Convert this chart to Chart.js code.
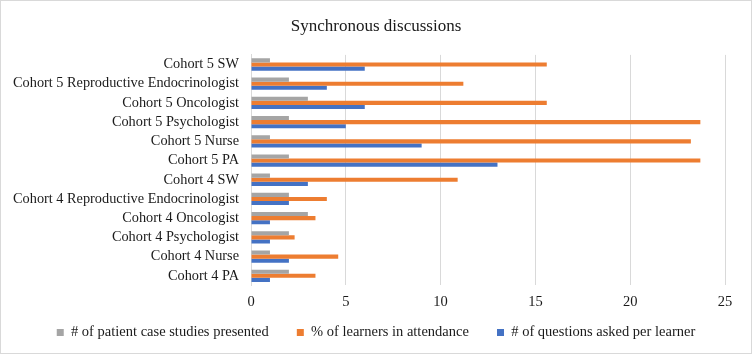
<!DOCTYPE html>
<html>
<head>
<meta charset="utf-8">
<script src="https://cdn.jsdelivr.net/npm/chart.js@4/dist/chart.umd.min.js"></script>
<style>
  body { margin: 0; background: #fff; }
  #wrap { width: 750px; height: 352px; border: 1px solid #d9d9d9; }
</style>
</head>
<body>
<div id="wrap"><canvas id="chart" width="750" height="352"></canvas></div>
<script>
const cohorts = [
  'Cohort 5 SW',
  'Cohort 5 Reproductive Endocrinologist',
  'Cohort 5 Oncologist',
  'Cohort 5 Psychologist',
  'Cohort 5 Nurse',
  'Cohort 5 PA',
  'Cohort 4 SW',
  'Cohort 4 Reproductive Endocrinologist',
  'Cohort 4 Oncologist',
  'Cohort 4 Psychologist',
  'Cohort 4 Nurse',
  'Cohort 4 PA'
];
const caseStudies = [1, 2, 3, 2, 1, 2, 1, 2, 3, 2, 1, 2];
const attendance = [15.6, 11.2, 15.6, 23.7, 23.2, 23.7, 10.9, 4.0, 3.4, 2.3, 4.6, 3.4];
const questions = [6, 4, 6, 5, 9, 13, 3, 2, 1, 1, 2, 1];
const xTicks = [0, 5, 10, 15, 20, 25];

Chart.defaults.font.family = '"Liberation Serif", "Times New Roman", serif';
Chart.defaults.color = '#1a1a1a';

const data = {
  labels: cohorts,
  datasets: [
    {
      label: '# of patient case studies presented',
      data: caseStudies,
      backgroundColor: '#a5a5a5'
    },
    {
      label: '% of learners in attendance',
      data: attendance,
      backgroundColor: '#ed7d31'
    },
    {
      label: '# of questions asked per learner',
      data: questions,
      backgroundColor: '#4472c4'
    }
  ]
};

// legend padding is kept small (it also sets the legend height),
// so the wider gap between items comes from trailing spaces
const legendLabels = (chart) => {
  const items = Chart.defaults.plugins.legend.labels.generateLabels(chart);
  items.forEach((item, i) => {
    if (i < items.length - 1) item.text += '     ';
  });
  return items;
};

// title and legend are centred on the whole canvas, not on the padded area
const centerOnCanvas = {
  id: 'centerOnCanvas',
  afterLayout(chart) {
    const shift = 8;
    [chart.titleBlock, chart.legend].forEach(box => {
      if (box) { box.left += shift; box.right += shift; }
    });
  }
};

const config = {
  type: 'bar',
  data: data,
  plugins: [centerOnCanvas],
  options: {
    indexAxis: 'y',
    responsive: false,
    animation: false,
    datasets: {
      bar: { categoryPercentage: 0.64, barPercentage: 1.0, borderWidth: 0 }
    },
    layout: { padding: { left: 10, right: 26, top: 0, bottom: 3.3 } },
    plugins: {
      title: {
        display: true,
        text: 'Synchronous discussions',
        font: { size: 17, weight: 'normal' },
        padding: { top: 15, bottom: 18.5 }
      },
      legend: {
        position: 'bottom',
        labels: {
          font: { size: 14.5 },
          boxWidth: 7,
          boxHeight: 7,
          padding: 10,
          generateLabels: legendLabels
        }
      },
      tooltip: { enabled: false }
    },
    scales: {
      x: {
        min: 0,
        max: 25,
        afterBuildTicks: (scale) => { scale.ticks = xTicks.map(v => ({ value: v })); },
        ticks: { font: { size: 14.5 }, padding: 8 },
        grid: { color: '#d9d9d9', drawTicks: false },
        border: { display: false },
        afterFit: (scale) => { scale.height = 29.8; }
      },
      y: {
        ticks: { font: { size: 14.3 }, padding: 12, autoSkip: false },
        grid: { display: false, drawTicks: false },
        border: { display: true, color: '#d9d9d9' },
        afterFit: (scale) => { scale.width = 240; }
      }
    }
  }
};

new Chart(document.getElementById('chart'), config);
</script>
</body>
</html>
